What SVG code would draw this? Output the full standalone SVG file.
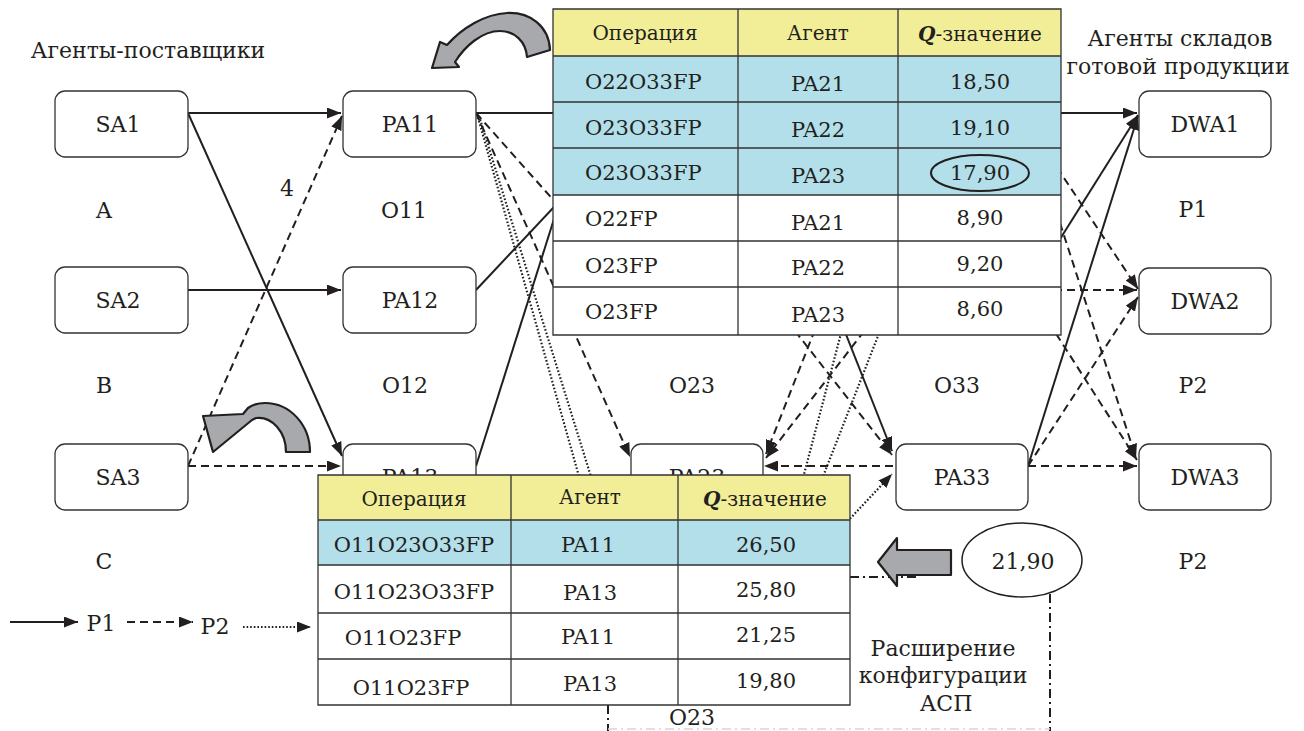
<svg xmlns="http://www.w3.org/2000/svg" width="1304" height="731" viewBox="0 0 1304 731">
<style>
text{font-family:'DejaVu Serif',serif;fill:#231f20;dominant-baseline:central}
.n22{font-size:22px;text-anchor:middle}
.lb{font-size:22px;text-anchor:middle}
.hd{font-size:20px;text-anchor:middle}
.c{font-size:21px;text-anchor:middle}
.cl{font-size:21px;text-anchor:start}
.box{fill:#fff;stroke:#333;stroke-width:1.3}
.s{stroke:#231f20;stroke-width:2;fill:none}
.d{stroke:#231f20;stroke-width:2;fill:none;stroke-dasharray:8 5}
.o{stroke:#231f20;stroke-width:2.2;fill:none;stroke-dasharray:1.6 2}
.dd{stroke:#231f20;stroke-width:2;fill:none;stroke-dasharray:9 4 2 4}
.g{fill:#a7a9ac;stroke:#231f20;stroke-width:2.2;stroke-linejoin:round}
.grid{stroke:#333;stroke-width:1.3;fill:none}
</style>
<defs>
<marker id="ah" markerUnits="userSpaceOnUse" markerWidth="14" markerHeight="11" refX="14" refY="5.5" orient="auto"><path d="M0,0 L14,5.5 L0,11 Z" fill="#231f20"/></marker>
</defs>

<g id="connectors">
<path class="s" d="M188,113 L341,113" marker-end="url(#ah)"/>
<path class="s" d="M188,113 L342,456" marker-end="url(#ah)"/>
<path class="s" d="M188,290 L341,290" marker-end="url(#ah)"/>
<path class="s" d="M476,113 L1137,113" marker-end="url(#ah)"/>
<path class="s" d="M476,290 L600,158"/>
<path class="s" d="M476,466 L560,200"/>
<path class="s" d="M763,124 L892,451" marker-end="url(#ah)"/>
<path class="s" d="M1028,290 L1138,115" marker-end="url(#ah)"/>
<path class="s" d="M1028,466 L1138,116" marker-end="url(#ah)"/>
<path class="d" d="M188,466 L341,466" marker-end="url(#ah)"/>
<path class="d" d="M188,466 L342,116" marker-end="url(#ah)"/>
<path class="d" d="M476,113 L580,230"/>
<path class="d" d="M476,113 L630,457" marker-end="url(#ah)"/>
<path class="d" d="M896,124 L766,454" marker-end="url(#ah)"/>
<path class="d" d="M896,290 L766,458" marker-end="url(#ah)"/>
<path class="d" d="M763,290 L892,455" marker-end="url(#ah)"/>
<path class="d" d="M893,466 L764,466" marker-end="url(#ah)"/>
<path class="d" d="M1028,124 L1138,289" marker-end="url(#ah)"/>
<path class="d" d="M1028,124 L1136,458" marker-end="url(#ah)"/>
<path class="d" d="M1028,290 L1137,290" marker-end="url(#ah)"/>
<path class="d" d="M1028,290 L1137,460" marker-end="url(#ah)"/>
<path class="d" d="M1028,466 L1138,297" marker-end="url(#ah)"/>
<path class="d" d="M1028,466 L1137,466" marker-end="url(#ah)"/>
<path class="o" d="M477,114 L580,480"/>
<path class="o" d="M479,116 L592,480"/>
<path class="o" d="M896,124 L792,520"/>
<path class="o" d="M896,290 L806,520"/>
<path class="o" d="M845,524 L892,474" marker-end="url(#ah)"/>
<path class="dd" d="M850,577 L917,577"/>
<path class="dd" d="M1050,594 L1050,731"/>
<path class="dd" d="M608,705 L608,731"/>
<path d="M608,729 L1050,729" stroke="#d6d6d6" stroke-width="1.5" stroke-dasharray="9 4 2 4" fill="none"/>
</g>

<g id="SA1"><rect class="box" x="55" y="91" width="133" height="66" rx="10"/><text class="n22" x="118" y="124">SA1</text></g>
<g id="SA2"><rect class="box" x="55" y="267" width="133" height="66" rx="10"/><text class="n22" x="118" y="300">SA2</text></g>
<g id="SA3"><rect class="box" x="55" y="444" width="133" height="66" rx="10"/><text class="n22" x="118" y="477">SA3</text></g>
<g id="PA11"><rect class="box" x="343" y="91" width="133" height="66" rx="10"/><text class="n22" x="410" y="124">PA11</text></g>
<g id="PA12"><rect class="box" x="343" y="267" width="133" height="66" rx="10"/><text class="n22" x="410" y="300">PA12</text></g>
<g id="PA13"><rect class="box" x="343" y="444" width="133" height="66" rx="10"/><text class="n22" x="410" y="477">PA13</text></g>
<g id="PA23"><rect class="box" x="631" y="444" width="132" height="66" rx="10"/><text class="n22" x="697" y="477">PA23</text></g>
<g id="PA33"><rect class="box" x="896" y="444" width="132" height="66" rx="10"/><text class="n22" x="962" y="477">PA33</text></g>
<g id="DWA1"><rect class="box" x="1139" y="91" width="132" height="66" rx="10"/><text class="n22" x="1205" y="124">DWA1</text></g>
<g id="DWA2"><rect class="box" x="1139" y="268" width="132" height="66" rx="10"/><text class="n22" x="1205" y="301">DWA2</text></g>
<g id="DWA3"><rect class="box" x="1139" y="444" width="132" height="66" rx="10"/><text class="n22" x="1205" y="477">DWA3</text></g>

<g id="labels">
<text class="lb" x="148" y="50">Агенты-поставщики</text>
<text class="n22" x="104" y="210">A</text>
<text class="n22" x="404" y="210">O11</text>
<text class="lb" x="287" y="188">4</text>
<text class="n22" x="104" y="385">B</text>
<text class="n22" x="405" y="385">O12</text>
<text class="n22" x="104" y="561">C</text>
<text class="n22" x="692" y="385">O23</text>
<text class="n22" x="957" y="385">O33</text>
<text class="n22" x="1193" y="209">P1</text>
<text class="n22" x="1193" y="385">P2</text>
<text class="n22" x="1193" y="561">P2</text>
<text class="lb" x="1180" y="38">Агенты складов</text>
<text class="lb" x="1178" y="66">готовой продукции</text>
<text class="n22" x="692" y="717">O23</text>
<text class="lb" x="943" y="648">Расширение</text>
<text class="lb" x="943" y="675">конфигурации</text>
<text class="lb" x="946" y="703">АСП</text>
</g>

<g id="legend">
<path class="s" d="M10,622 L78,622" marker-end="url(#ah)"/>
<text class="n22" x="101" y="623">P1</text>
<path class="d" d="M127,622 L193,622" marker-end="url(#ah)"/>
<text class="n22" x="215" y="626">P2</text>
<path class="o" d="M243,627 L311,627" marker-end="url(#ah)"/>
</g>

<g id="table-top">
<rect x="553" y="9" width="508" height="47" fill="#f2ee97"/>
<rect x="553" y="56" width="508" height="139" fill="#b2dfea"/>
<rect x="553" y="195" width="508" height="140" fill="#fff"/>
<path class="grid" d="M553,9 H1061 V335 H553 Z M553,56 H1061 M553,102 H1061 M553,148 H1061 M553,195 H1061 M553,241 H1061 M553,287 H1061 M738,9 V335 M898,9 V335"/>
<text class="hd" x="645" y="33">Операция</text>
<text class="hd" x="818" y="33">Агент</text>
<text class="hd" x="980" y="34"><tspan font-style="italic" font-weight="bold">Q</tspan>-значение</text>
<text class="cl" x="585" y="82">O22O33FP</text><text class="c" x="818" y="84">PA21</text><text class="c" x="980" y="82">18,50</text>
<text class="cl" x="585" y="128">O23O33FP</text><text class="c" x="818" y="130">PA22</text><text class="c" x="980" y="128">19,10</text>
<text class="cl" x="585" y="173">O23O33FP</text><text class="c" x="818" y="176">PA23</text><text class="c" x="980" y="173">17,90</text>
<ellipse cx="980" cy="173" rx="49" ry="18" fill="none" stroke="#231f20" stroke-width="2"/>
<text class="cl" x="585" y="219">O22FP</text><text class="c" x="818" y="223">PA21</text><text class="c" x="980" y="218">8,90</text>
<text class="cl" x="585" y="266">O23FP</text><text class="c" x="818" y="268">PA22</text><text class="c" x="980" y="264">9,20</text>
<text class="cl" x="585" y="312">O23FP</text><text class="c" x="818" y="315">PA23</text><text class="c" x="980" y="309">8,60</text>
</g>

<g id="table-bottom">
<rect x="318" y="475" width="532" height="45" fill="#f2ee97"/>
<rect x="318" y="520" width="532" height="45" fill="#b2dfea"/>
<rect x="318" y="565" width="532" height="140" fill="#fff"/>
<path class="grid" d="M318,475 H850 V705 H318 Z M318,520 H850 M318,565 H850 M318,613 H850 M318,659 H850 M511,475 V705 M678,475 V705"/>
<text class="hd" x="414" y="499">Операция</text>
<text class="hd" x="590" y="497">Агент</text>
<text class="hd" x="765" y="499"><tspan font-style="italic" font-weight="bold">Q</tspan>-значение</text>
<text class="c" x="414" y="545">O11O23O33FP</text><text class="c" x="588" y="545">PA11</text><text class="c" x="766" y="545">26,50</text>
<text class="c" x="414" y="592">O11O23O33FP</text><text class="c" x="590" y="593">PA13</text><text class="c" x="766" y="590">25,80</text>
<text class="c" x="403" y="638">O11O23FP</text><text class="c" x="588" y="637">PA11</text><text class="c" x="766" y="635">21,25</text>
<text class="c" x="411" y="688">O11O23FP</text><text class="c" x="590" y="684">PA13</text><text class="c" x="766" y="681">19,80</text>
</g>

<g id="curved-arrow-top">
<path class="g" d="M550,50 C549,26 530,12 507,13 C485,14 462,28 447,45 L440,42 L432,68 L459,67 L455,62 C465,46 482,31 500,31 C515,31 526,42 527,57 Z"/>
</g>
<g id="curved-arrow-bottom">
<path class="g" d="M310,452 C310,425 290,403 265,403 C258,403 252,405 248,408 L243,414 L203,416 L213,452 L252,420 L256,418 C272,416 286,432 286,452 Z"/>
</g>
<g id="block-arrow">
<path class="g" d="M951,550 L897,550 L897,538 L878,562 L897,586 L897,575 L951,575 Z"/>
</g>
<g id="value-2190">
<ellipse cx="1022" cy="560" rx="60" ry="37" fill="#fff" stroke="#231f20" stroke-width="1.5"/>
<text class="n22" x="1023" y="561">21,90</text>
</g>
</svg>
